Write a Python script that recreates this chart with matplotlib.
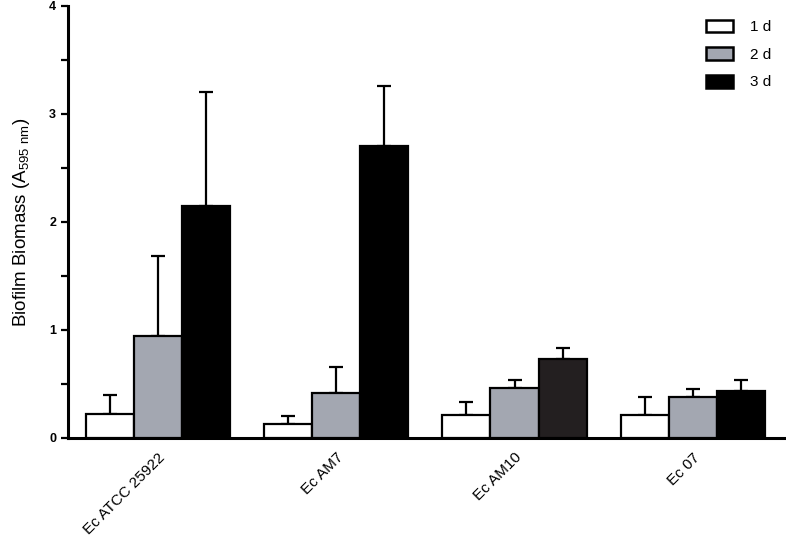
import numpy as np
import matplotlib
matplotlib.use("Agg")
import matplotlib.pyplot as plt
from matplotlib.patches import Patch

plt.rcParams["font.family"] = ["Liberation Sans", "DejaVu Sans"]

# --- data ---
strains = ["Ec ATCC 25922", "Ec AM7", "Ec AM10", "Ec 07"]
days = ["1 d", "2 d", "3 d"]
mean_1d = [0.22, 0.13, 0.21, 0.21]
mean_2d = [0.94, 0.42, 0.46, 0.38]
mean_3d = [2.15, 2.70, 0.73, 0.43]
sd_1d = [0.18, 0.07, 0.12, 0.17]
sd_2d = [0.74, 0.24, 0.08, 0.07]
sd_3d = [1.05, 0.56, 0.10, 0.11]

means = [mean_1d, mean_2d, mean_3d]
sds = [sd_1d, sd_2d, sd_3d]
faces = [["white"] * 4, ["#a3a7b1"] * 4, ["black", "black", "#231f20", "black"]]
legend_faces = ["white", "#a3a7b1", "black"]

fig = plt.figure(figsize=(7.86, 5.38), dpi=100)
ax = fig.add_axes([0.0865, 0.186, 0.912, 0.803])

x = np.arange(len(strains))
w = 0.27
for i in range(3):
    pos = x + (i - 1) * w
    ax.bar(pos, means[i], width=w, color=faces[i], edgecolor="black",
           linewidth=1.6, zorder=3)
    ax.errorbar(pos, means[i], yerr=[np.zeros(4), sds[i]], fmt="none",
                ecolor="black", elinewidth=1.6, capsize=5, capthick=1.6,
                zorder=2)

ax.set_xlim(-0.506, 3.517)
ax.set_ylim(0, 4)
ax.set_yticks([0, 1, 2, 3, 4])
ax.set_yticks(np.arange(0.5, 4, 1), minor=True)
ax.set_xticks(x)
ax.set_xticklabels(strains, rotation=45, ha="right", rotation_mode="anchor",
                   fontsize=11)
for lab in ax.get_yticklabels():
    lab.set_fontweight("bold")
    lab.set_fontsize(9)
ax.tick_params(axis="y", which="both", direction="out", length=5, width=1.6)
ax.tick_params(axis="x", length=0, pad=9)
for s in ["top", "right"]:
    ax.spines[s].set_visible(False)
for s in ["left", "bottom"]:
    ax.spines[s].set_linewidth(2.2)

ax.set_ylabel(r"Biofilm Biomass (A$_{\mathregular{595\ nm}}$)", fontsize=13.5,
              labelpad=12)

handles = [Patch(facecolor=c, edgecolor="black", linewidth=1.8)
           for c in legend_faces]
ax.legend(handles, days, loc="upper right", bbox_to_anchor=(1.0, 1.0),
          frameon=False, fontsize=11, handlelength=1.8, handleheight=0.9,
          labelspacing=0.85, handletextpad=1.1)

fig.savefig("out.png", dpi=100)
